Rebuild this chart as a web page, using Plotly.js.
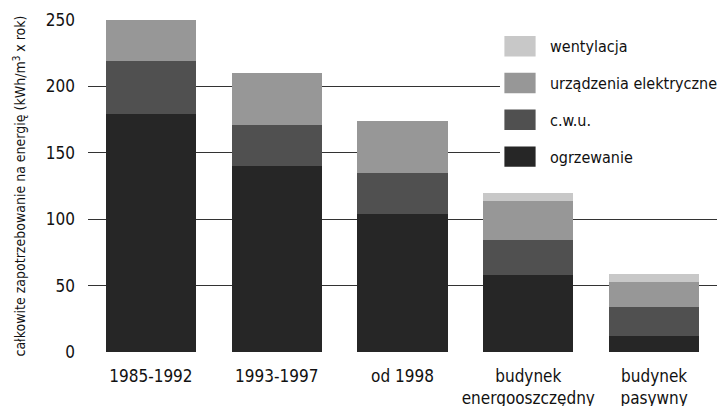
<!DOCTYPE html>
<html><head><meta charset="utf-8">
<script src="https://cdn.plot.ly/plotly-3.0.1.min.js"></script>
<style>
html,body{margin:0;padding:0;background:#fff}#chart{width:717px;height:406px}
#chart .legend .legendpoints path{transform: translate(20px,0) scale(2.6,1.7);}
</style>
</head><body><div id="chart"></div>
<script>
const categories = ["1985-1992", "1993-1997", "od 1998", "budynek<br>energooszczędny", "budynek<br>pasywny"];
const ogrzewanie = [179, 140, 104, 58, 12];
const cwu = [40, 31, 31, 26, 22];
const urzadzenia = [31, 39, 39, 30, 19];
const wentylacja = [0, 0, 0, 6, 6];
const seriesNames = ["ogrzewanie", "c.w.u.", "urządzenia elektryczne", "wentylacja"];
const yTicks = [0, 50, 100, 150, 200, 250];

const FONT = "'DejaVu Sans Condensed', 'DejaVu Sans', sans-serif";
const colors = ["#262626", "#505050", "#979797", "#c8c8c8"];
const values = [ogrzewanie, cwu, urzadzenia, wentylacja];

const traces = values.map((v, i) => ({
  type: "bar", x: categories, y: v, name: seriesNames[i],
  marker: {color: colors[i], line: {width: 0}},
  legendgroup: "g" + i, legendrank: 10 - i, hoverinfo: "skip"
}));

const layout = {
  width: 717, height: 406,
  margin: {l: 88, r: 0, t: 20, b: 54, autoexpand: false},
  barmode: "stack", bargap: 0.284,
  paper_bgcolor: "#fff", plot_bgcolor: "#fff",
  font: {family: FONT, size: 17, color: "#111"},
  xaxis: {type: "category", showgrid: false, zeroline: false, showline: false, ticks: "",
          ticklabelstandoff: 12,
          tickfont: {family: FONT, size: 17, color: "#111"}},
  yaxis: {range: [0, 250], tickvals: yTicks, ticktext: yTicks.map(String),
          showgrid: true, gridcolor: "#333", gridwidth: 1,
          zeroline: true, zerolinecolor: "#fff", showline: false, ticks: "",
          ticklabelstandoff: 12,
          tickfont: {family: FONT, size: 17, color: "#111"},
          title: {text: "całkowite zapotrzebowanie na energię (kWh/m<sup>3</sup> x rok)",
                  font: {family: FONT, size: 14, color: "#111"}, standoff: 16}},
  legend: {x: 0.655, xanchor: "left", y: 0.972, yanchor: "top", traceorder: "grouped",
           tracegroupgap: 13, bgcolor: "rgba(255,255,255,1)", borderwidth: 0,
           font: {family: FONT, size: 16, color: "#111"}, itemwidth: 40},
  showlegend: true
};

Plotly.newPlot("chart", traces, layout, {displayModeBar: false, staticPlot: true});
</script></body></html>
